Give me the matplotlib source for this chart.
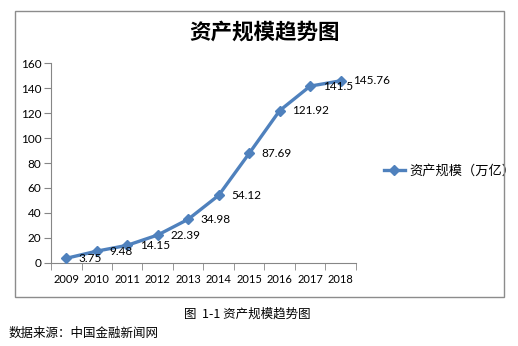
import numpy as np
import matplotlib as mpl
mpl.use("Agg")
import matplotlib.pyplot as plt
from matplotlib.patches import Rectangle

plt.rcParams['font.family'] = ['Lato', 'Noto Sans CJK SC', 'DejaVu Sans']

years = ['2009', '2010', '2011', '2012', '2013', '2014', '2015', '2016', '2017', '2018']
assets = [3.75, 9.48, 14.15, 22.39, 34.98, 54.12, 87.69, 121.92, 141.5, 145.76]
value_labels = ['3.75', '9.48', '14.15', '22.39', '34.98', '54.12', '87.69', '121.92', '141.5', '145.76']
yticks = [0, 20, 40, 60, 80, 100, 120, 140, 160]

blue = '#4F81BD'
axis_gray = '#868686'

fig = plt.figure(figsize=(5.18, 3.46), dpi=100)
fig.patch.set_facecolor('white')

# outer chart frame
fig.patches.append(Rectangle((0.029, 0.1416), 0.944, 0.8264, transform=fig.transFigure,
                             fill=False, edgecolor='#8c8c8c', linewidth=1.0))

ax = fig.add_axes([0.0985, 0.2399, 0.5885, 0.578])
x = np.arange(len(years))
ax.plot(x, assets, color=blue, linewidth=2.4, marker='D', markersize=5.5,
        markerfacecolor=blue, markeredgecolor=blue, label='资产规模（万亿）', zorder=3)

for xi, yi, lab in zip(x, assets, value_labels):
    ax.annotate(lab, (xi, yi), xytext=(9, 0), textcoords='offset points',
                ha='left', va='center', fontsize=8.5, color='black')

ax.set_xlim(-0.5, len(years) - 0.5)
ax.set_ylim(0, 160)
ax.set_yticks(yticks)
ax.set_xticks(x)
ax.set_xticklabels(years)
ax.set_xticks(np.arange(-0.5, len(years)), minor=True)
ax.tick_params(axis='x', which='major', length=0, pad=8, labelsize=8)
ax.tick_params(axis='x', which='minor', length=5, color=axis_gray, direction='out')
ax.tick_params(axis='y', length=5, color=axis_gray, labelsize=8.5, pad=2)

for s in ['top', 'right']:
    ax.spines[s].set_visible(False)
for s in ['left', 'bottom']:
    ax.spines[s].set_color(axis_gray)

ax.legend(loc='center left', bbox_to_anchor=(0.718, 0.506), bbox_transform=fig.transFigure,
          frameon=False, handlelength=1.6, handletextpad=0.3,
          prop={'family': ['Noto Sans CJK SC'], 'size': 9.5})

fig.text(0.511, 0.908, '资产规模趋势图', ha='center', va='center', fontsize=15.5,
         fontweight='bold', family=['Noto Sans CJK SC'])
fig.text(0.478, 0.092, '图  1-1 资产规模趋势图', ha='center', va='center', fontsize=9,
         family=['Noto Sans CJK SC'])
fig.text(0.016, 0.037, '数据来源：中国金融新闻网', ha='left', va='center', fontsize=9,
         family=['Noto Sans CJK SC'])

fig.savefig('out.png', dpi=100, facecolor='white')
